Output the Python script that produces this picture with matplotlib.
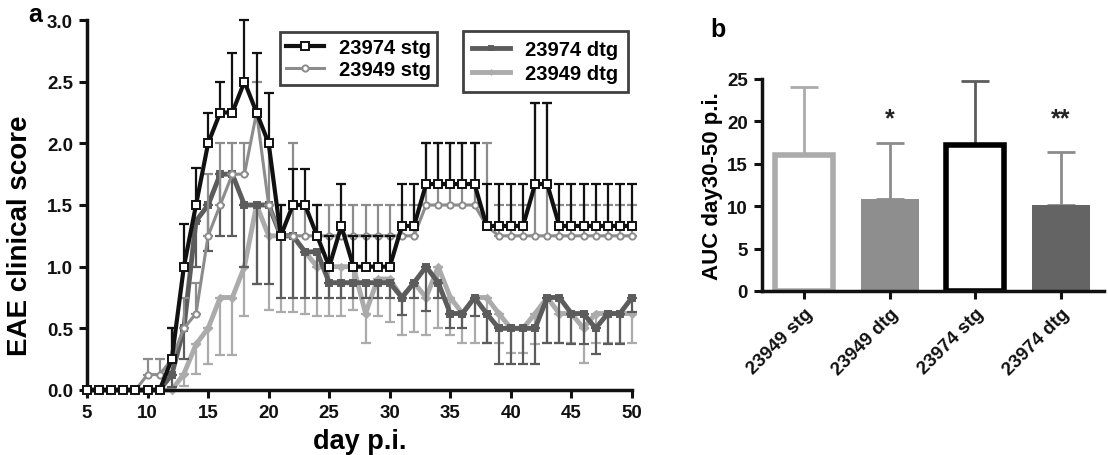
import numpy as np
import matplotlib
matplotlib.use("Agg")
import matplotlib.pyplot as plt

plt.rcParams['font.family'] = ['Liberation Sans', 'DejaVu Sans']
plt.rcParams['font.weight'] = 'bold'

days = list(range(5, 51))

stg_23974 = [0]*7 + [0.25, 1.0, 1.5, 2.0, 2.25, 2.25, 2.5, 2.25, 2.0, 1.25, 1.5, 1.5, 1.25, 1.0,
                     1.33, 1.0, 1.0, 1.0, 1.0, 1.33, 1.33] + [1.67]*5 + [1.33]*4 + [1.67]*2 + [1.33]*7
stg_23974_err = [0]*7 + [0.25, 0.35, 0.3, 0.25, 0.25, 0.48, 0.5, 0.48, 0.41, 0.25, 0.29, 0.29, 0.25, 0.25,
                         0.34, 0.25, 0.25, 0.25, 0.25, 0.34, 0.34] + [0.33]*5 + [0.34]*4 + [0.66]*2 + [0.34]*7

stg_23949 = [0]*5 + [0.125, 0.125, 0.25, 0.5, 0.62, 1.25, 1.5, 1.75, 1.75, 2.25, 1.5, 1.25] + [1.25]*11 \
            + [1.5]*5 + [1.33] + [1.25]*12
stg_23949_err = [0]*5 + [0.125, 0.125, 0.25, 0.25, 0.25, 0.5, 0.5, 0.25, 0.25, 0.25, 0.5, 0.25] \
                + [0.75] + [0.25]*10 + [0.5]*5 + [0.67] + [0.25]*3 + [1.08]*2 + [0.25]*7

dtg_23974 = [0]*7 + [0.125, 0.5, 1.37, 1.5, 1.75, 1.75, 1.5, 1.5, 1.5, 1.25, 1.25, 1.12, 1.12,
                     0.87, 0.87, 0.87, 0.87, 0.87, 0.87, 0.75, 0.87, 1.0, 0.87, 0.62, 0.62, 0.75, 0.62,
                     0.5, 0.5, 0.5, 0.5, 0.75, 0.75, 0.62, 0.62, 0.5, 0.62, 0.62, 0.75]
dtg_23974_err = [0]*7 + [0.1, 0.25, 0.37, 0.37, 0.5, 0.5, 0.5, 0.64, 0.64, 0.5, 0.5, 0.37, 0.37,
                         0.12, 0.12, 0.12, 0.12, 0.12, 0.12, 0.14, 0.12, 0.36, 0.12, 0.12, 0.12, 0.15, 0.24,
                         0.29, 0.29, 0.29, 0.29, 0.37, 0.37, 0.25, 0.25, 0.21, 0.25, 0.25, 0.12]

dtg_23949 = [0]*8 + [0.13, 0.37, 0.5, 0.75, 0.75, 1.0, 1.5, 1.25, 1.25, 1.25, 1.12, 1.0, 1.0, 1.0, 1.0,
                     0.62, 0.9, 0.9, 0.75, 0.87, 0.75, 1.0, 0.75, 0.62, 0.75, 0.75, 0.62, 0.5, 0.5,
                     0.62, 0.75, 0.62, 0.62, 0.5, 0.62, 0.62, 0.62, 0.62]
dtg_23949_err = [0]*8 + [0.1, 0.24, 0.29, 0.47, 0.47, 0.4, 0.64, 0.6, 0.62, 0.62, 0.5, 0.4, 0.4, 0.4, 0.35,
                         0.24, 0.3, 0.35, 0.3, 0.4, 0.3, 0.5, 0.3, 0.24, 0.37, 0.37, 0.24, 0.2, 0.2,
                         0.25, 0.37, 0.24, 0.24, 0.28, 0.24, 0.24, 0.24, 0.24]

bar_labels = ['23949 stg', '23949 dtg', '23974 stg', '23974 dtg']
auc_means = [16.0, 10.8, 17.2, 10.2]
auc_err = [8.1, 6.6, 7.6, 6.2]
auc_sig = ['', '*', '', '**']

C_BLACK = '#111111'
C_MID = '#8c8c8c'
C_DARK = '#5c5c5c'
C_LIGHT = '#ababab'

W, H = 1108, 456
fig = plt.figure(figsize=(W / 100, H / 100), dpi=100)
ax = fig.add_axes([87 / W, 1 - 391 / H, 545 / W, 370 / H])

def series(y, err, color, marker, ms, lw, mfc, direction, z, label):
    y = np.array(y, float)
    e = np.array(err, float)
    if direction == 'up':
        yerr = [np.zeros_like(e), e]
    else:
        yerr = [e, np.zeros_like(e)]
    ax.errorbar(days, y, yerr=yerr, fmt='none', ecolor=color, elinewidth=1.6,
                capsize=3.5, capthick=1.6, zorder=z, clip_on=False)
    line, = ax.plot(days, y, color=color, lw=lw, marker=marker, ms=ms, mfc=mfc,
                    mec=color, mew=1.4, zorder=z + 0.5, clip_on=False, label=label)
    return line

l_d49 = series(dtg_23949, dtg_23949_err, C_LIGHT, 'D', 3.5, 3.5, C_LIGHT, 'down', 2, '23949 dtg')
l_d74 = series(dtg_23974, dtg_23974_err, C_DARK, 's', 4, 3.5, C_DARK, 'down', 3, '23974 dtg')
l_s49 = series(stg_23949, stg_23949_err, C_MID, 'o', 4.5, 2.2, 'white', 'up', 4, '23949 stg')
l_s74 = series(stg_23974, stg_23974_err, C_BLACK, 's', 5.5, 3.0, 'white', 'up', 5, '23974 stg')

ax.set_xlim(5, 50)
ax.set_ylim(0, 3.0)
ax.set_xticks(range(5, 51, 5))
yt = np.arange(0, 3.01, 0.5)
ax.set_yticks(yt)
ax.set_yticklabels([f'{v:.1f}' for v in yt])
for s in ['top', 'right']:
    ax.spines[s].set_visible(False)
for s in ['left', 'bottom']:
    ax.spines[s].set_linewidth(2.5)
    ax.spines[s].set_color('#111111')
ax.tick_params(width=2.2, length=6, pad=4, labelsize=13.5, colors='#111111')
for t in ax.get_xticklabels() + ax.get_yticklabels():
    t.set_fontweight('bold')
ax.set_xlabel('day p.i.', fontsize=19.5, fontweight='bold')
ax.xaxis.set_label_coords(0.5, -0.138)
ax.xaxis.label.set_va('center')
ax.set_ylabel('EAE clinical score', fontsize=20, fontweight='bold')
ax.yaxis.set_label_coords(-0.123, 0.42)
ax.yaxis.label.set_va('center')

leg_kw = dict(frameon=True, fancybox=False, prop={'weight': 'bold', 'size': 14.5},
              handlelength=1.9, handletextpad=0.75, bbox_transform=fig.transFigure,
              loc='upper left', borderaxespad=0)
leg1 = ax.legend(handles=[l_s74, l_s49], bbox_to_anchor=(280 / W, 1 - 33 / H),
                 borderpad=0.3, labelspacing=0.15, **leg_kw)
leg1.get_frame().set_edgecolor('#111111')
leg1.get_frame().set_linewidth(2)
ax.add_artist(leg1)
leg2 = ax.legend(handles=[l_d74, l_d49], bbox_to_anchor=(463 / W, 1 - 32 / H),
                 borderpad=0.45, labelspacing=0.25, markerscale=0.6, **leg_kw)
leg2.get_frame().set_edgecolor('#111111')
leg2.get_frame().set_linewidth(2)

fig.text(28 / W, 1 - 22 / H, 'a', fontsize=18, fontweight='bold')
fig.text(710 / W, 1 - 37 / H, 'b', fontsize=18, fontweight='bold')

# Panel b
bx = fig.add_axes([761.6 / W, 1 - 292 / H, 342 / W, 212 / H])
x = np.arange(len(bar_labels))
faces = ['white', '#8e8e8e', 'white', '#646464']
edges = [C_LIGHT, '#8e8e8e', '#000000', '#646464']
lws = [4, 0, 4, 0]
ecols = [C_LIGHT, C_MID, C_DARK, C_MID]
bx.bar(x, auc_means, width=0.68, color=faces, edgecolor=edges, linewidth=lws, zorder=2)
for i in range(len(x)):
    bx.errorbar(x[i], auc_means[i], yerr=[[0], [auc_err[i]]], fmt='none', ecolor=ecols[i],
                elinewidth=2, capsize=10, capthick=2, zorder=1)
    if auc_sig[i]:
        bx.text(x[i], 19.0, auc_sig[i], ha='center', va='bottom', fontsize=18, fontweight='bold',
                color='#222222')
bx.set_xlim(-0.5, 3.5)
bx.set_ylim(0, 25)
bx.set_yticks([0, 5, 10, 15, 20, 25])
bx.set_xticks(x)
bx.set_xticklabels(bar_labels, rotation=45, ha='right', rotation_mode='anchor', fontsize=15.5,
                   fontweight='bold')
for s in ['top', 'right']:
    bx.spines[s].set_visible(False)
for s in ['left', 'bottom']:
    bx.spines[s].set_linewidth(2.5)
    bx.spines[s].set_color('#111111')
bx.tick_params(width=2.2, length=6, pad=4, labelsize=13.5, colors='#111111')
for t in bx.get_yticklabels():
    t.set_fontweight('bold')
bx.set_ylabel('AUC day30-50 p.i.', fontsize=16, fontweight='bold')
bx.yaxis.set_label_coords(-0.145, 0.5)
bx.yaxis.label.set_va('center')

fig.savefig('out.png', dpi=100)
